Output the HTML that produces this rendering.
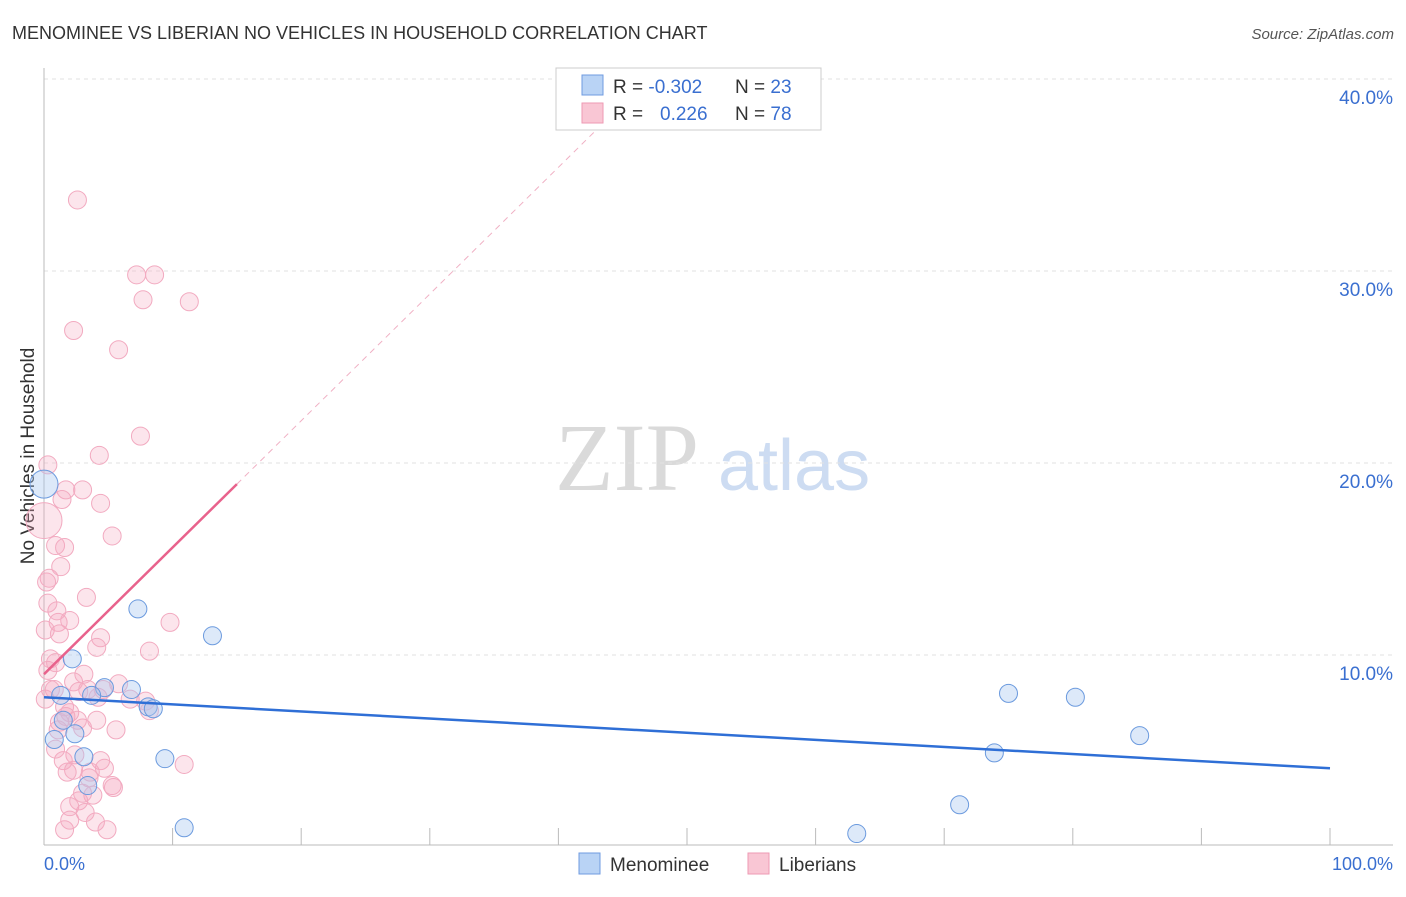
<!DOCTYPE html>
<html><head><meta charset="utf-8"><style>
body{margin:0;background:#fff;font-family:"Liberation Sans",sans-serif;}
</style></head><body>
<svg width="1406" height="892" xmlns="http://www.w3.org/2000/svg" font-family="Liberation Sans, sans-serif">
<text x="12" y="39" font-size="18" fill="#333">MENOMINEE VS LIBERIAN NO VEHICLES IN HOUSEHOLD CORRELATION CHART</text>
<text x="1394" y="39" font-size="15" fill="#555" font-style="italic" text-anchor="end">Source: ZipAtlas.com</text>
<text x="555" y="490" font-size="96" fill="#dadada" font-family="Liberation Serif, serif">ZIP</text>
<text x="718" y="490" font-size="72" fill="#cddcf2">atlas</text>
<text transform="translate(34,456) rotate(-90)" font-size="19" fill="#333" text-anchor="middle">No Vehicles in Household</text>
<g id="grid"></g><g id="axes"></g><g id="pts"></g><g id="trend"></g>
<rect x="556" y="68" width="265" height="62" fill="#fff" stroke="#ccc"/>
<rect x="582" y="75" width="21" height="20" fill="#b9d3f5" stroke="#6f9be0"/>
<rect x="582" y="103" width="21" height="20" fill="#f9c6d4" stroke="#ee9ab3"/>
<text x="613" y="93" font-size="19" fill="#333">R = <tspan fill="#3a6fd0">-0.302</tspan><tspan x="735">N = </tspan><tspan fill="#3a6fd0">23</tspan></text>
<text x="613" y="120" font-size="19" fill="#333">R = <tspan x="660" fill="#3a6fd0">0.226</tspan><tspan x="735">N = </tspan><tspan fill="#3a6fd0">78</tspan></text>
<rect x="579" y="853" width="21" height="21" fill="#b9d3f5" stroke="#6f9be0"/>
<text x="610" y="871" font-size="19" fill="#333">Menominee</text>
<rect x="748" y="853" width="21" height="21" fill="#f9c6d4" stroke="#ee9ab3"/>
<text x="779" y="871" font-size="19" fill="#333">Liberians</text>
<text x="44" y="870" font-size="18" fill="#3a6fd0">0.0%</text>
<text x="1393" y="870" font-size="18" fill="#3a6fd0" text-anchor="end">100.0%</text>
</svg>
<script>
const yTicks=[10,20,30,40];
const yTickLabels=["10.0%","20.0%","30.0%","40.0%"];
const xTicks=[0,10,20,30,40,50,60,70,80,90,100];
const blueX=[0,7.3,13.1,2.2,1.3,4.7,3.7,6.8,8.1,8.5,0.8,2.4,3.1,9.4,3.4,10.9,75.0,80.2,85.2,73.9,71.2,63.2,1.5];
const blueY=[18.9,12.4,11.0,9.8,7.9,8.3,7.9,8.2,7.3,7.2,5.6,5.9,4.7,4.6,3.2,1.0,8.0,7.8,5.8,4.9,2.2,0.7,6.6];
const pinkX=[2.6,7.2,8.6,7.7,11.3,2.3,5.8,7.5,4.3,0.3,1.7,3.0,1.4,4.4,5.3,0,0.9,1.6,1.3,0.4,0.3,3.3,2.0,1.1,0.1,1.2,9.8,4.4,4.1,8.2,0.5,0.3,0.9,3.1,2.3,4.2,2.7,5.8,1.6,2.0,4.1,2.6,3.0,5.6,1.2,7.9,1.1,1.5,2.4,4.4,4.7,1.8,3.6,2.3,10.9,5.3,5.4,2.7,3.8,2.0,3.5,3.0,4.0,1.6,4.9,2.0,0.9,3.2,0.1,0.5,0.2,4.6,8.2,0.8,1.7,3.4,6.7,1.0];
const pinkY=[33.7,29.8,29.8,28.5,28.4,26.9,25.9,21.4,20.4,19.9,18.6,18.6,18.1,17.9,16.2,17.0,15.7,15.6,14.6,14.0,12.7,13.0,11.8,11.7,11.3,11.1,11.7,10.9,10.4,10.2,9.8,9.2,9.6,9.0,8.6,7.8,8.1,8.5,7.3,7.0,6.6,6.6,6.2,6.1,6.5,7.6,6.1,4.5,4.8,4.5,4.1,3.9,3.9,4.0,4.3,3.2,3.1,2.4,2.7,2.1,3.6,2.8,1.3,0.9,0.9,1.4,5.1,1.8,7.7,8.2,13.8,8.2,7.1,8.2,6.8,8.2,7.7,12.3];
const blueTrend=[7.8,4.1];
const pinkTrend=[9.0,18.9];
const pinkTrendSolidEnd=15, pinkTrendDashEnd=43;
const NS="http://www.w3.org/2000/svg";
const sx=v=>44+v*12.86, sy=v=>847-v*19.2;
function mk(tag,attrs,parent){const e=document.createElementNS(NS,tag);for(const k in attrs)e.setAttribute(k,attrs[k]);document.getElementById(parent).appendChild(e);return e;}
yTicks.forEach((t,i)=>{
 const l=mk('line',{x1:44,x2:1393,y1:sy(t),y2:sy(t),stroke:'#e2e2e2','stroke-dasharray':'4,4'},'grid');
 
 
 const tx=mk('text',{x:1393,y:sy(t)+25,'font-size':19,fill:'#3a6fd0','text-anchor':'end'},'grid');
 tx.textContent=yTickLabels[i];
 
 
});
const ax=mk('line',{x1:44,x2:44,y1:68,y2:845,stroke:'#bbb'},'axes');


const bx=mk('line',{x1:44,x2:1393,y1:845,y2:845,stroke:'#bbb'},'axes');


xTicks.forEach(t=>{const l=mk('line',{x1:sx(t),x2:sx(t),y1:828,y2:845,stroke:'#bbb'},'axes');
 
 });
pinkX.forEach((x,i)=>{const big=(x===0&&pinkY[i]===17.0);
 const c=mk('circle',{cx:sx(x),cy:sy(pinkY[i]),r:big?18:9,fill:'rgba(246,170,192,0.3)',stroke:'#f2aac0','stroke-width':1},'pts');
 
 });
blueX.forEach((x,i)=>{const big=(i===0);
 const c=mk('circle',{cx:sx(x),cy:sy(blueY[i]),r:big?14:9,fill:'rgba(170,200,240,0.4)',stroke:'#6b9ade','stroke-width':1},'pts');
 
 });
const bl=mk('line',{x1:sx(0),y1:sy(blueTrend[0]),x2:sx(100),y2:sy(blueTrend[1]),stroke:'#2f6fd6','stroke-width':2.5},'trend');


const slope=(pinkTrend[1]-pinkTrend[0])/pinkTrendSolidEnd;
const pl=mk('line',{x1:sx(0),y1:sy(pinkTrend[0]),x2:sx(pinkTrendSolidEnd),y2:sy(pinkTrend[1]),stroke:'#e8628c','stroke-width':2.5},'trend');


const pd=mk('line',{x1:sx(pinkTrendSolidEnd),y1:sy(pinkTrend[1]),x2:sx(pinkTrendDashEnd),y2:sy(pinkTrend[0]+slope*pinkTrendDashEnd),stroke:'#f0b0c4','stroke-width':1,'stroke-dasharray':'6,5'},'trend');


</script>
</body></html>
